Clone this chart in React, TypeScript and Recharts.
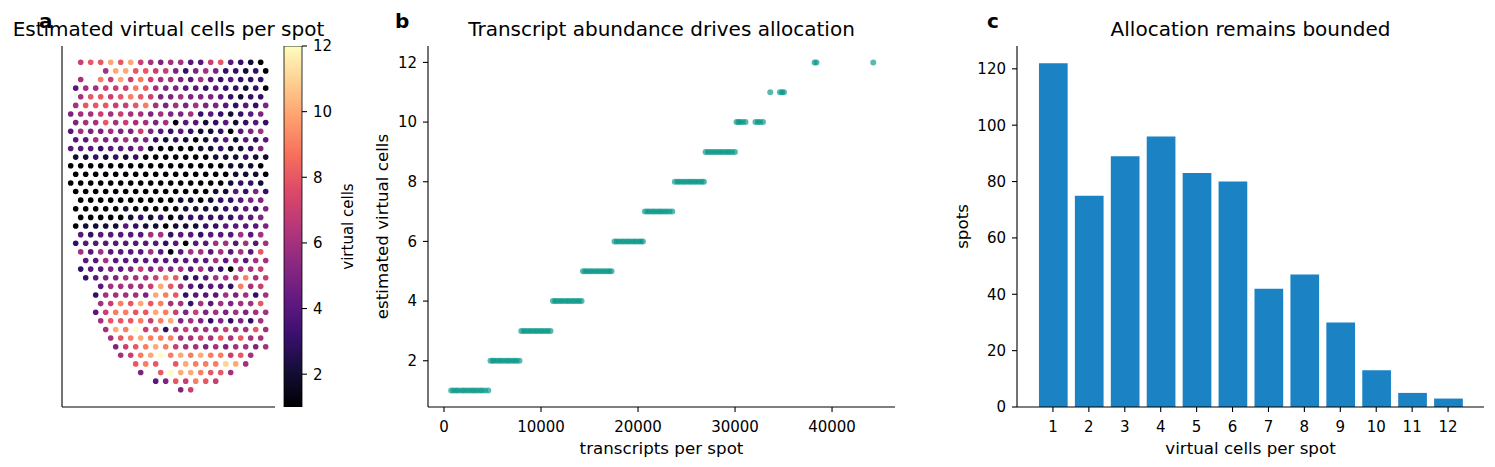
import { Bar, BarChart, Cell, Scatter, ScatterChart, XAxis, YAxis } from "recharts";

const FONT = "DejaVu Sans, sans-serif";

// panel a: hex spot grid, one string per row (top to bottom).
// '.' = no spot, hex digit = estimated virtual cells (a=10, b=11, c=12)
const spotRows = [
  ".788a8a7656644784321",
  "...6aa88775356533231",
  ".6.97a79766546434333",
  "46677798655443433231",
  ".6887898755655543233",
  "68887789656565543435",
  "56676766565563432345",
  "56686766561442342343",
  "46556557543432231456",
  "44655655323212342434",
  "44434445211112232235",
  "22323231111111222322",
  "11111111111111112221",
  "11111111111111112221",
  "11111111111111112332",
  "11111111111111224353",
  ".1111111111221233455",
  "11111211111222233435",
  ".1111123231233333445",
  "12222432212223344445",
  ".4344444663443444646",
  "34444444434144664646",
  ".6464444641466464648",
  ".4464444444444646466",
  ".3445457565646431667",
  ".3455666798334667967",
  "...466667a8643443967",
  "..366665a98344465636",
  "...6798a896636465668",
  "..479988a97575656566",
  "...6888979a565353536",
  "...6a9c7836766676686",
  "....689a999667686866",
  "....5789a97665656656",
  ".....679ac9a9a99786.",
  "......898.8a999ba6..",
  ".......5.8caa9886...",
  "........4587987.....",
  "...........57.......",
];

// panel b: transcripts per spot, grouped by estimated virtual cells (1..12)
const transcriptsByCells: number[][] = [
  [740, 980, 1260, 1490, 1810, 2040, 2320, 2590, 2860, 3110, 3380, 3660, 3910, 4210, 4560],
  [4790, 5020, 5240, 5510, 5760, 5990, 6260, 6510, 6740, 7010, 7260, 7490, 7780],
  [7960, 8210, 8440, 8710, 8940, 9210, 9460, 9690, 9960, 10190, 10460, 10710, 10980],
  [11230, 11460, 11690, 11960, 12190, 12460, 12710, 12940, 13210, 13440, 13710, 13940, 14180],
  [14330, 14560, 14790, 15060, 15290, 15560, 15810, 16040, 16310, 16540, 16810, 17040, 17270],
  [17580, 17810, 18040, 18310, 18540, 18810, 19040, 19310, 19560, 19790, 20060, 20290, 20500],
  [20710, 20960, 21190, 21460, 21690, 21960, 22210, 22440, 22710, 22960, 23240, 23530],
  [23800, 24060, 24290, 24560, 24790, 25060, 25310, 25540, 25810, 26040, 26310, 26560, 26790],
  [26960, 27210, 27440, 27710, 27940, 28210, 28460, 28690, 28960, 29210, 29440, 29710, 29990],
  [30150, 30360, 30540, 30810, 31080, 32110, 32360, 32590, 32880],
  [33630, 34630, 34850, 35040],
  [38200, 38400, 44250],
];

// panel c: histogram of virtual cells per spot
const cellCounts = [1, 2, 3, 4, 5, 6, 7, 8, 9, 10, 11, 12];
const spotCounts = [122, 75, 89, 96, 83, 80, 42, 47, 30, 13, 5, 3];

const cellTicks = [2, 4, 6, 8, 10, 12];
const transcriptTicks = [0, 10000, 20000, 30000, 40000];
const spotTicks = [0, 20, 40, 60, 80, 100, 120];

const magmaStops = [
  "#000004", "#140e36", "#3b0f70", "#641a80", "#8c2981", "#b73779",
  "#de4968", "#f7705c", "#fe9f6d", "#fecf92", "#fcfdbf",
];

function hexToRgb(h: string) {
  return [1, 3, 5].map((i) => parseInt(h.slice(i, i + 2), 16));
}

function magma(v: number) {
  const t = Math.max(0, Math.min(1, (v - 1) / 11)) * (magmaStops.length - 1);
  const i = Math.min(Math.floor(t), magmaStops.length - 2);
  const f = t - i;
  const a = hexToRgb(magmaStops[i]);
  const b = hexToRgb(magmaStops[i + 1]);
  const c = a.map((x, j) => Math.round(x + (b[j] - x) * f));
  return `rgb(${c[0]},${c[1]},${c[2]})`;
}

const spots = spotRows.flatMap((row, r) =>
  row.split("").flatMap((ch, k) =>
    ch === "." ? [] : [{ col: 2 * k + (r % 2), row: r, cells: parseInt(ch, 16) }]
  )
);

const transcriptPoints = transcriptsByCells.flatMap((xs, i) =>
  xs.map((x) => ({ transcripts: x, cells: i + 1 }))
);

const histData = cellCounts.map((c, i) => ({ cells: c, spots: spotCounts[i] }));
const colorbarData = [{ name: "cb", span: [1, 12] }];

const tickStyle = { fill: "#000", fontSize: 15, fontFamily: FONT };
const axisLine = { stroke: "#000", strokeWidth: 1.1 };
const tickLine = { stroke: "#000", strokeWidth: 1.1 };

// small round markers, like matplotlib's s= scatter dots
const dot = (r: number) => (props: any) => (
  <circle cx={props.cx} cy={props.cy} r={r} fill={props.fill} fillOpacity={props.fillOpacity} />
);

export default function App() {
  return (
    <div
      style={{
        position: "absolute",
        left: 0,
        top: 0,
        width: 1495,
        height: 467,
        background: "#fff",
        fontFamily: FONT,
      }}
    >
      {/* a: spatial map */}
      <div style={{ position: "absolute", left: 0, top: 0 }}>
        <ScatterChart width={290} height={467} margin={{ top: 46, right: 15, bottom: 59, left: 61 }}>
          <XAxis
            type="number"
            dataKey="col"
            domain={[-1.74, 40.86]}
            allowDataOverflow
            tick={false}
            tickLine={false}
            axisLine={axisLine}
            height={1}
          />
          <YAxis
            type="number"
            dataKey="row"
            domain={[-1.89, 40]}
            reversed
            allowDataOverflow
            tick={false}
            tickLine={false}
            axisLine={axisLine}
            width={1}
          />
          <Scatter data={spots} shape={dot(2.8)} isAnimationActive={false}>
            {spots.map((s, i) => (
              <Cell key={i} fill={magma(s.cells)} />
            ))}
          </Scatter>
        </ScatterChart>
      </div>

      {/* a: colorbar */}
      <div style={{ position: "absolute", left: 270, top: 0 }}>
        <BarChart
          width={100}
          height={467}
          data={colorbarData}
          margin={{ top: 46, right: 0, bottom: 60, left: 14 }}
          barCategoryGap={0}
        >
          <defs>
            <linearGradient id="magmaGrad" x1="0" y1="1" x2="0" y2="0">
              {magmaStops.map((c, i) => (
                <stop key={i} offset={`${(i / (magmaStops.length - 1)) * 100}%`} stopColor={c} />
              ))}
            </linearGradient>
          </defs>
          <XAxis dataKey="name" hide />
          <YAxis
            orientation="right"
            type="number"
            domain={[1, 12]}
            ticks={cellTicks}
            allowDataOverflow
            axisLine={false}
            tickLine={tickLine}
            tickSize={5}
            tickMargin={6}
            tick={tickStyle}
            width={68}
          />
          <Bar dataKey="span" fill="url(#magmaGrad)" stroke="#000" strokeWidth={0.8} isAnimationActive={false} />
        </BarChart>
      </div>

      {/* b: scatter */}
      <div style={{ position: "absolute", left: 330, top: 0 }}>
        <ScatterChart width={580} height={467} margin={{ top: 46, right: 15, bottom: 0, left: 0 }}>
          <XAxis
            type="number"
            dataKey="transcripts"
            domain={[-1650, 46490]}
            ticks={transcriptTicks}
            allowDataOverflow
            axisLine={axisLine}
            tickLine={tickLine}
            tickSize={5}
            tickMargin={9}
            tick={tickStyle}
            height={60}
          />
          <YAxis
            type="number"
            dataKey="cells"
            domain={[0.45, 12.55]}
            ticks={cellTicks}
            allowDataOverflow
            axisLine={axisLine}
            tickLine={tickLine}
            tickSize={5}
            tickMargin={6}
            tick={tickStyle}
            width={98}
          />
          <Scatter
            data={transcriptPoints}
            fill="#009484"
            fillOpacity={0.65}
            shape={dot(3)}
            isAnimationActive={false}
          />
        </ScatterChart>
      </div>

      {/* c: histogram */}
      <div style={{ position: "absolute", left: 920, top: 0 }}>
        <BarChart width={575} height={467} data={histData} margin={{ top: 46, right: 11, bottom: 0, left: 0 }}>
          <XAxis
            type="number"
            dataKey="cells"
            domain={[0, 13]}
            ticks={cellCounts}
            allowDataOverflow
            axisLine={axisLine}
            tickLine={tickLine}
            tickSize={5}
            tickMargin={9}
            tick={tickStyle}
            height={60}
          />
          <YAxis
            type="number"
            domain={[0, 128.1]}
            ticks={spotTicks}
            allowDataOverflow
            axisLine={axisLine}
            tickLine={tickLine}
            tickSize={5}
            tickMargin={6}
            tick={tickStyle}
            width={97}
          />
          <Bar dataKey="spots" fill="#1b82c4" barSize={28.7} isAnimationActive={false} />
        </BarChart>
      </div>

      {/* titles, panel letters, axis labels */}
      <svg
        width={1495}
        height={467}
        style={{ position: "absolute", left: 0, top: 0, pointerEvents: "none" }}
        fontFamily={FONT}
      >
        <text x={39} y={28} fontSize={20} fontWeight="bold">a</text>
        <text x={395} y={28} fontSize={20} fontWeight="bold">b</text>
        <text x={987} y={28} fontSize={20} fontWeight="bold">c</text>
        <text x={168.5} y={36} fontSize={20} textAnchor="middle">Estimated virtual cells per spot</text>
        <text x={661.5} y={36} fontSize={20} textAnchor="middle">Transcript abundance drives allocation</text>
        <text x={1250.5} y={36} fontSize={20} textAnchor="middle">Allocation remains bounded</text>
        <text x={661.5} y={454} fontSize={16.7} textAnchor="middle">transcripts per spot</text>
        <text x={1250.5} y={454} fontSize={16.7} textAnchor="middle">virtual cells per spot</text>
        <text transform="translate(388,226.5) rotate(-90)" fontSize={16.7} textAnchor="middle">estimated virtual cells</text>
        <text transform="translate(968,226.5) rotate(-90)" fontSize={16.7} textAnchor="middle">spots</text>
        <text transform="translate(353,226.5) rotate(-90)" fontSize={15} textAnchor="middle">virtual cells</text>
      </svg>
    </div>
  );
}
